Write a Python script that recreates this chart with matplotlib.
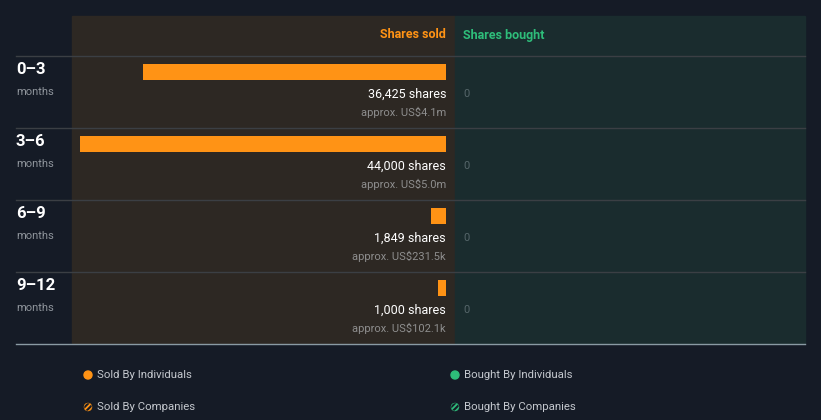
import matplotlib
matplotlib.use("Agg")
import matplotlib.pyplot as plt
from matplotlib.patches import Rectangle, Circle

plt.rcParams['font.family'] = ['Roboto', 'DejaVu Sans']
plt.rcParams['hatch.linewidth'] = 1.3

# data
periods = ["0\u20133", "3\u20136", "6\u20139", "9\u201312"]
shares_sold = [36425, 44000, 1849, 1000]
value_sold = ["US$4.1m", "US$5.0m", "US$231.5k", "US$102.1k"]
shares_bought = [0, 0, 0, 0]

bg = "#151b26"
sold_bg = "#2d2823"
bought_bg = "#1a2c2e"
orange = "#ff9315"
green = "#2ebd7a"
W, H = 821, 420

fig = plt.figure(figsize=(W / 100, H / 100), dpi=100, facecolor=bg)

# pixel overlay for panels, lines and text
ax0 = fig.add_axes([0, 0, 1, 1])
ax0.set_xlim(0, W)
ax0.set_ylim(H, 0)
ax0.axis("off")
ax0.set_facecolor(bg)

ax0.add_patch(Rectangle((72, 16), 383, 327, color=sold_bg, zorder=0))
ax0.add_patch(Rectangle((455, 16), 350, 327, color=bought_bg, zorder=0))

ax0.text(446, 35, "Shares sold", color=orange, fontsize=9, fontweight="bold",
         ha="right", va="center")
ax0.text(463, 35, "Shares bought", color=green, fontsize=9, fontweight="bold",
         ha="left", va="center")

row_top = 56
row_h = 72
for i in range(len(periods)):
    ax0.plot([16, 805], [row_top + i * row_h] * 2, color="#3b3f44", lw=1, zorder=1)
ax0.plot([16, 805], [343.5, 343.5], color="#8a9aa3", lw=1, zorder=1)

for i, p in enumerate(periods):
    y = row_top + i * row_h
    ax0.text(16, y + 14, p, color="white", fontsize=12, fontweight="bold",
             ha="left", va="center")
    ax0.text(16, y + 36, "months", color="#8f959c", fontsize=8,
             ha="left", va="center")
    ax0.text(446, y + 38, f"{shares_sold[i]:,} shares", color="white", fontsize=9,
             ha="right", va="center")
    ax0.text(446, y + 56, f"approx. {value_sold[i]}", color="#8e8e8e", fontsize=8,
             ha="right", va="center")
    ax0.text(463, y + 38, f"{shares_bought[i]}", color="#56666a", fontsize=8,
             ha="left", va="center")

# legend
leg = [("Sold By Individuals", orange, False, 88, 375),
       ("Bought By Individuals", green, False, 455, 375),
       ("Sold By Companies", orange, True, 88, 407),
       ("Bought By Companies", green, True, 455, 407)]
for label, c, hatched, x, y in leg:
    if hatched:
        ax0.add_patch(Circle((x, y), 4, facecolor=bg, edgecolor=c, hatch="//////", lw=0.3))
    else:
        ax0.add_patch(Circle((x, y), 4, color=c))
    ax0.text(x + 9, y, label, color="#c4c8ce", fontsize=8.2, ha="left", va="center")

# bar axes: sold panel, shares scale with 0 at x=446
px_per_share = 366 / max(shares_sold)
ax = fig.add_axes([72 / W, (H - 344) / H, 383 / W, 288 / H])
ax.set_xlim(374 / px_per_share, -9 / px_per_share)
ax.set_ylim(len(periods) - 0.5, -0.5)
ax.axis("off")
ax.patch.set_alpha(0)
bar_off = 16 / row_h
ax.barh([i - 0.5 + bar_off for i in range(len(periods))], shares_sold,
        height=16 / row_h, color=orange, align="center")

fig.savefig("out.png", dpi=100, facecolor=bg)
